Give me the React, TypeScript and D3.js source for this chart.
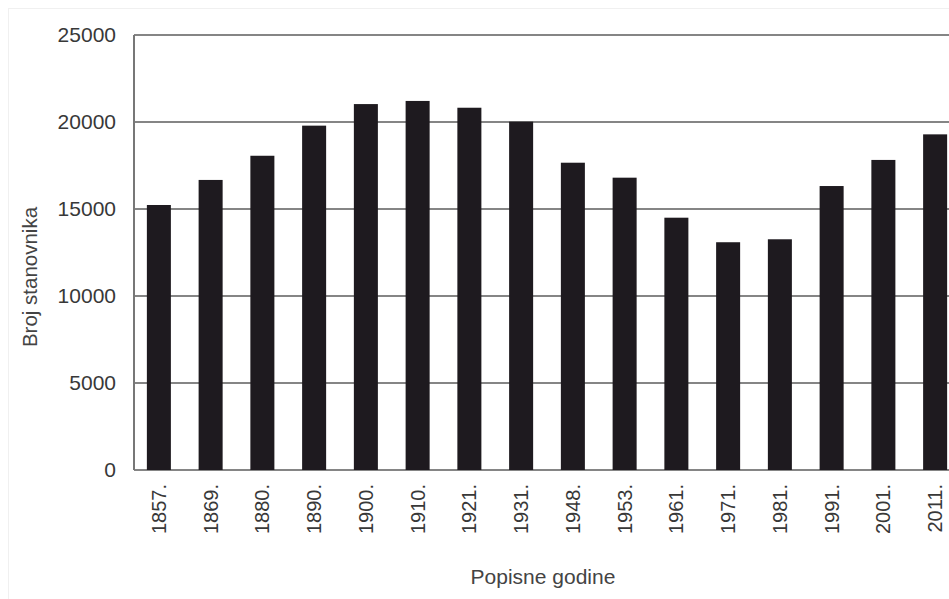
import React from 'react';
import * as d3 from 'd3';

const years = ['1857.', '1869.', '1880.', '1890.', '1900.', '1910.', '1921.', '1931.',
  '1948.', '1953.', '1961.', '1971.', '1981.', '1991.', '2001.', '2011.'];
const population = [15230, 16670, 18060, 19790, 21030, 21210, 20820, 20020,
  17660, 16800, 14500, 13090, 13260, 16320, 17820, 19290];
const yTicks = [0, 5000, 10000, 15000, 20000, 25000];

const W = 949;
const H = 599;
const FONT = '"Liberation Sans", Arial, sans-serif';

export default function App() {
  // plot runs past the right edge, like the cropped original
  const x = d3.scaleBand<string>()
    .domain(years)
    .range([133, 961])
    .paddingInner(0.536)
    .paddingOuter(0.268);
  const y = d3.scaleLinear().domain([0, 25000]).range([470, 35]);

  return (
    <div style={{ position: 'absolute', left: 0, top: 0 }}>
      <svg width={W} height={H} style={{ display: 'block', background: '#fff' }}>
        <rect x={8.5} y={8.5} width={W} height={H} fill="none" stroke="#f0f0f0" />

        {/* gridlines */}
        {yTicks.map((t) => (
          <line key={t} x1={134} x2={W} y1={y(t)} y2={y(t)} stroke="#858585" strokeWidth={2} />
        ))}
        <line x1={134} x2={134} y1={y(25000)} y2={y(0)} stroke="#777" strokeWidth={2} />

        {/* bars */}
        {years.map((yr, i) => (
          <rect
            key={yr}
            x={x(yr)}
            y={y(population[i])}
            width={x.bandwidth()}
            height={y(0) - y(population[i])}
            fill="#1e1a1f"
          />
        ))}

        {/* y tick labels */}
        {yTicks.map((t) => (
          <text key={t} x={116} y={y(t)} dy="0.35em" textAnchor="end"
            fontFamily={FONT} fontSize={21} fill="#383838">{t}</text>
        ))}

        {/* x tick labels */}
        {years.map((yr) => (
          <text key={yr}
            transform={`translate(${(x(yr) ?? 0) + x.bandwidth() / 2},484) rotate(-90)`}
            textAnchor="end" dy="0.35em"
            fontFamily={FONT} fontSize={20} fill="#383838">{yr}</text>
        ))}

        <text transform="translate(30,277) rotate(-90)" textAnchor="middle" dy="0.35em"
          fontFamily={FONT} fontSize={20.5} fill="#444">Broj stanovnika</text>
        <text x={543} y={577} textAnchor="middle" dy="0.35em"
          fontFamily={FONT} fontSize={21} fill="#444">Popisne godine</text>
      </svg>
    </div>
  );
}
